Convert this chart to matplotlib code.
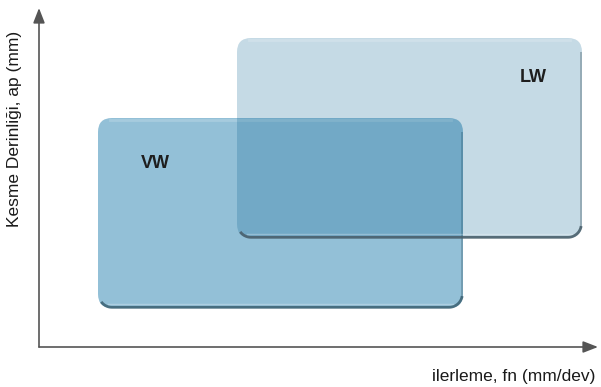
import numpy as np
import matplotlib.pyplot as plt
from matplotlib.patches import FancyBboxPatch

plt.rcParams['font.family'] = ['Liberation Sans', 'DejaVu Sans']

# regions in axis units (pixels from the axis origin)
names = ['VW', 'LW']
fn_min = [59, 198]
fn_max = [424, 543]
ap_min = [39, 109]
ap_max = [229, 309]
label_x = [116, 494]
label_y = [184, 270]
fills = ['#93c0d7', '#05608f']
alphas = [1.0, 0.23]
edge_cols = ['#3f6577', '#4a606c']

fig = plt.figure(figsize=(6.01, 3.87), dpi=100)
ax = fig.add_axes([39 / 601, 40 / 387, 559 / 601, 339 / 387])
ax.set_xlim(0, 559)
ax.set_ylim(0, 339)
ax.axis('off')

r = 14
for i in range(len(names)):
    x0, x1, y0, y1 = fn_min[i], fn_max[i], ap_min[i], ap_max[i]
    z = 3 + 2 * i
    box = FancyBboxPatch((x0, y0), x1 - x0, y1 - y0,
                         boxstyle='round,pad=0,rounding_size=%d' % r,
                         fc=fills[i], ec='none', alpha=alphas[i], zorder=z)
    ax.add_patch(box)
    # dark edge along the bottom
    t1 = np.linspace(np.pi * 1.2, np.pi * 1.5, 12)
    t2 = np.linspace(np.pi * 1.5, np.pi * 1.95, 15)
    ex = np.concatenate([x0 + r + (r - 0.7) * np.cos(t1), x1 - r + (r - 0.7) * np.cos(t2)])
    ey = np.concatenate([y0 + r + (r - 0.7) * np.sin(t1), y0 + r + (r - 0.7) * np.sin(t2)])
    ax.plot(ex, ey, color=edge_cols[i], lw=2.0, alpha=0.9, solid_capstyle='butt', zorder=z)
    # softer edge on the right side
    ax.plot([x1 - 0.6, x1 - 0.6], [y0 + r * 0.7, y1 - r], color=edge_cols[i],
            lw=1.2, alpha=0.45, solid_capstyle='butt', zorder=z)
    # light line near the bottom edge
    ax.plot([x0 + 10, x1 - 10], [y0 + 4, y0 + 4],
            color='white', alpha=0.25, lw=1, zorder=z)
    # soft highlight at the top edge
    ax.plot([x0 + 12, x1 - 12], [y1 - 1.5, y1 - 1.5],
            color='white', alpha=0.18, lw=2, zorder=z)
    ax.text(label_x[i], label_y[i], names[i], fontsize=13, fontweight='bold',
            color='#1e1e1e', ha='center', va='center', zorder=10)

# axis arrows
ax.annotate('', xy=(559, 0), xytext=(0, 0),
            arrowprops=dict(arrowstyle='-|>,head_length=0.9,head_width=0.35',
                            color='#555555', lw=1.2, shrinkA=0, shrinkB=0),
            annotation_clip=False)
ax.annotate('', xy=(0, 339), xytext=(0, 0),
            arrowprops=dict(arrowstyle='-|>,head_length=0.9,head_width=0.35',
                            color='#555555', lw=1.2, shrinkA=0, shrinkB=0),
            annotation_clip=False)

fig.text(514 / 601, 1 - 377 / 387, 'ilerleme, fn (mm/dev)', fontsize=12.5,
         ha='center', va='center', color='#1a1a1a')
fig.text(15 / 601, 1 - 129 / 387, 'Kesme Derinliği, ap (mm)', fontsize=12.5,
         ha='center', va='center', rotation=90, color='#1a1a1a')

fig.savefig('out.png', dpi=100)
